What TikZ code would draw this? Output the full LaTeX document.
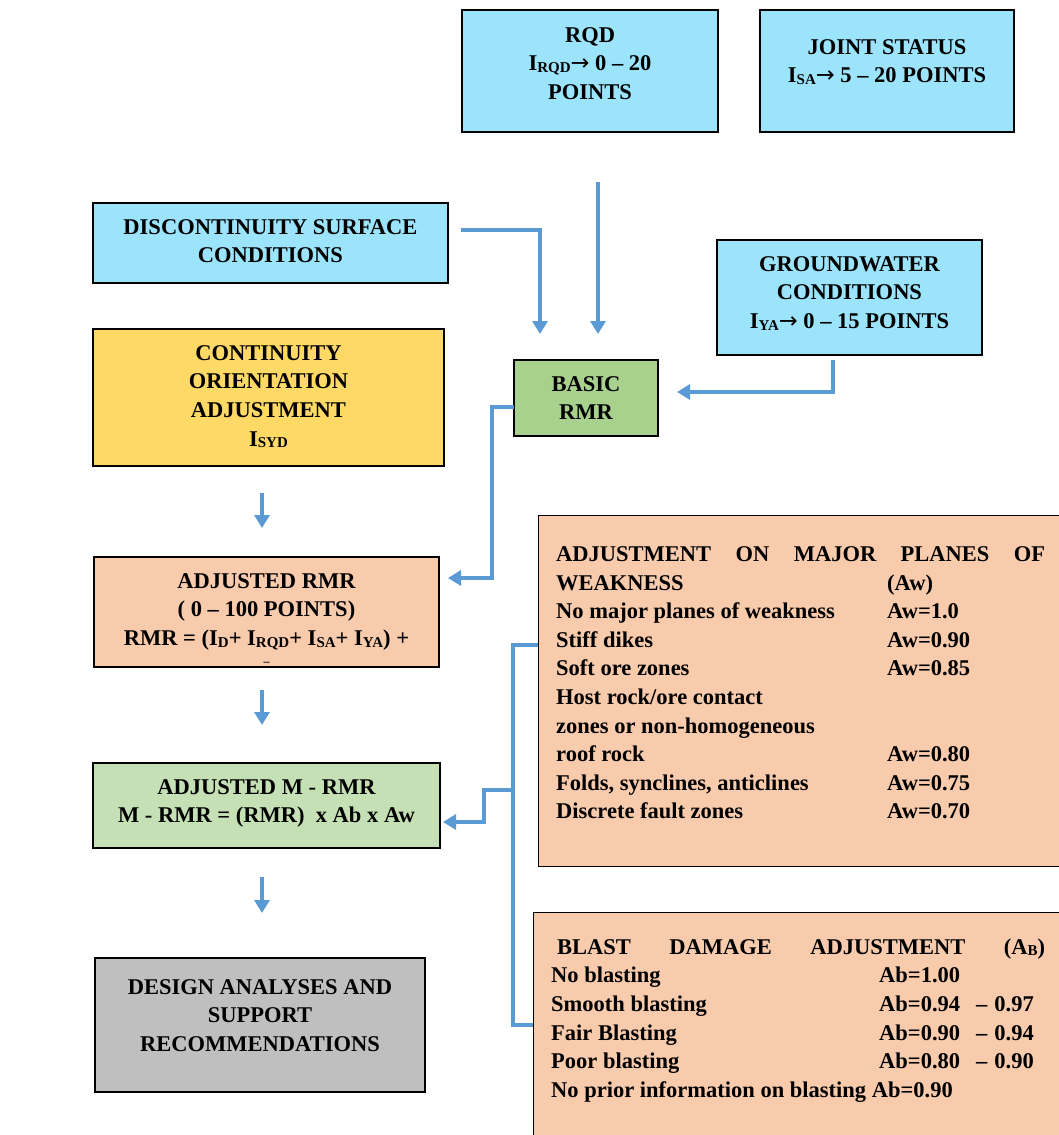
\documentclass[tikz,border=0pt]{standalone}
\usepackage{fontspec}
\setmainfont{Liberation Serif}
\newfontfamily\arrowfont{DejaVu Sans}
\usetikzlibrary{arrows.meta,calc}
\definecolor{cyanbox}{RGB}{155,228,252}
\definecolor{yellowbox}{RGB}{255,217,102}
\definecolor{basicgreen}{RGB}{169,209,142}
\definecolor{peachbox}{RGB}{248,203,173}
\definecolor{mgreen}{RGB}{197,224,180}
\definecolor{graybox}{RGB}{191,191,191}
\definecolor{lineblue}{RGB}{91,155,213}
\newcommand\mysub[1]{\raisebox{-1.5pt}{\fontsize{15}{15}\selectfont #1}}
\newcommand\myarrow{{\arrowfont\mdseries →}}
\newcommand\topbox[4]{\parbox[c][#2pt][t]{#1pt}{\centering\vspace*{#3pt}#4}}
\begin{document}
\begin{tikzpicture}[x=1pt,y=-1pt,
  box/.style={draw=black, line width=1.3pt, inner sep=0pt, font=\fontsize{22.5}{28.6}\selectfont\bfseries},
  txt/.style={inner sep=0pt, align=left, font=\fontsize{22.5}{28.6}\selectfont\bfseries},
  conn/.style={draw=lineblue, line width=3.2pt},
  arr/.style={conn, -{Triangle[length=13pt,width=15pt]}}]
\fill[white] (0,0) rectangle (1058,1135);
\useasboundingbox (0,0) rectangle (1058,1135);

\node[box, fill=cyanbox] (rqd) at (590,71) {\topbox{256}{122}{17.4}{RQD\\I\mysub{RQD}\myarrow\ 0 – 20\\POINTS}};
\node[box, fill=cyanbox] (joint) at (887,71) {\topbox{254}{122}{29.4}{JOINT STATUS\\I\mysub{SA}\myarrow\ 5 – 20 POINTS}};
\node[box, fill=cyanbox] (disc) at (270.5,243) {\topbox{355}{80}{16.4}{DISCONTINUITY SURFACE\\CONDITIONS}};
\node[box, fill=cyanbox] (ground) at (849.5,297.5) {\topbox{265}{115}{16.4}{GROUNDWATER\\CONDITIONS\\I\mysub{YA}\myarrow\ 0 – 15 POINTS}};
\node[box, fill=yellowbox] (cont) at (268.5,397.5) {\topbox{351}{137}{16.4}{CONTINUITY\\ORIENTATION\\ADJUSTMENT\\I\mysub{SYD}}};
\node[box, fill=basicgreen] (basic) at (586,398) {\topbox{144}{76}{16.4}{BASIC\\RMR}};
\node[box, fill=peachbox] (adj) at (266.5,612) {\topbox{345}{110}{16.4}{ADJUSTED RMR\\( 0 – 100 POINTS)\\RMR = (I\mysub{D}+ I\mysub{RQD}+ I\mysub{SA}+ I\mysub{YA}) +\\[-9pt]{\fontsize{12}{12}\selectfont –}}};
\node[box, fill=mgreen] (mrmr) at (266.5,805.5) {\topbox{347}{85}{16.4}{ADJUSTED M - RMR\\M - RMR = (RMR)\ \ x Ab x Aw}};
\node[box, fill=graybox] (design) at (260,1025) {\topbox{330}{134}{21.4}{DESIGN ANALYSES AND\\SUPPORT\\RECOMMENDATIONS}};

\node[box, fill=peachbox, minimum width=537pt, minimum height=351pt, anchor=north west] (major) at (538,515) {};
\node[txt, anchor=north west] (majortext) at (556,546.4) {%
\makebox[489pt][s]{ADJUSTMENT\hfill ON\hfill MAJOR\hfill PLANES\hfill OF}\\
\makebox[331pt][l]{WEAKNESS}(Aw)\\
\makebox[331pt][l]{No major planes of weakness}Aw=1.0\\
\makebox[331pt][l]{Stiff dikes}Aw=0.90\\
\makebox[331pt][l]{Soft ore zones}Aw=0.85\\
Host rock/ore contact\\
zones or non-homogeneous\\
\makebox[331pt][l]{roof rock}Aw=0.80\\
\makebox[331pt][l]{Folds, synclines, anticlines}Aw=0.75\\
\makebox[331pt][l]{Discrete fault zones}Aw=0.70};

\node[box, fill=peachbox, minimum width=545pt, minimum height=240pt, anchor=north west] (blast) at (533,912) {};
\node[txt, anchor=north west] (blasttext) at (551,938.4) {%
\hspace*{6pt}\makebox[488pt][s]{BLAST\hfill DAMAGE\hfill ADJUSTMENT\hfill (A\mysub{B})}\\
\makebox[328pt][l]{No blasting}Ab=1.00\\
\makebox[328pt][l]{Smooth blasting}Ab=0.94\hspace{16pt}–\hspace{7pt}0.97\\
\makebox[328pt][l]{Fair Blasting}Ab=0.90\hspace{16pt}–\hspace{7pt}0.94\\
\makebox[328pt][l]{Poor blasting}Ab=0.80\hspace{16pt}–\hspace{7pt}0.90\\
No prior information on blasting Ab=0.90};

% connectors
\coordinate (rqdout) at (598,182);
\coordinate (rqdin) at (598,334);
\draw[arr] (rqdout) -- (rqdin);
\coordinate (discout) at (461,230);
\coordinate (discin) at (540,334);
\draw[arr] (discout) -| (discin);
\coordinate (gwout) at (833,360);
\coordinate (gwin) at (677,392);
\draw[arr] (gwout) |- (gwin);
\coordinate (basicout) at (514,407);
\coordinate (adjin) at (448,578);
\draw[arr] (basicout) -- ++(-22,0) |- (adjin);
\coordinate (a1s) at (262,493); \coordinate (a1e) at (262,528);
\draw[arr] (a1s) -- (a1e);
\coordinate (a2s) at (262,690); \coordinate (a2e) at (262,725);
\draw[arr] (a2s) -- (a2e);
\coordinate (a3s) at (262,877); \coordinate (a3e) at (262,913);
\draw[arr] (a3s) -- (a3e);
\coordinate (br1) at (538,645);
\coordinate (br2) at (533,1025);
\draw[conn] (br1) -- ++(-25,0) |- (br2);
\coordinate (brj) at (513,790);
\coordinate (mrmrin) at (443,822);
\draw[arr] (brj) -- ++(-29,0) |- (mrmrin);
\end{tikzpicture}
\end{document}
